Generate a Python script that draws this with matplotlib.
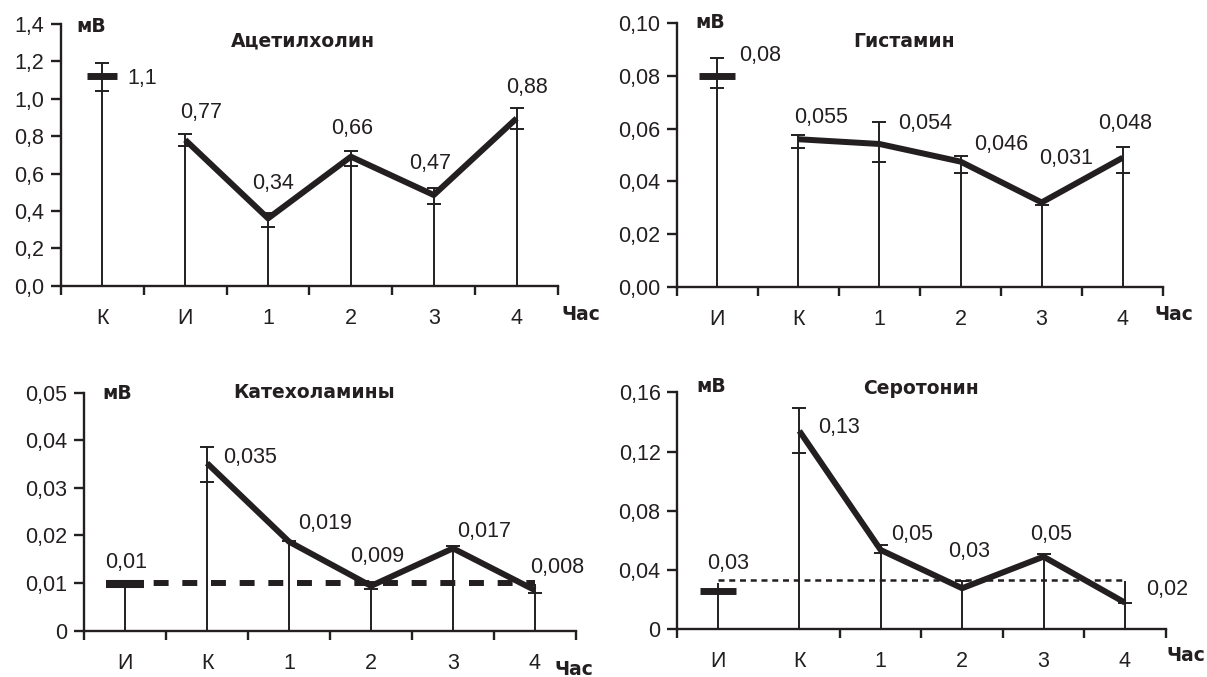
import numpy as np
import matplotlib
matplotlib.use('Agg')
import matplotlib.pyplot as plt

INK = '#231f20'
NUM_FONT = 'Liberation Sans'
BOLD_FONT = 'DejaVu Sans'
NUM_SIZE = 15.5

# ---------------- data ----------------
# Ацетилхолин
ach_cats = ['К', 'И', '1', '2', '3', '4']
ach_vals = [1.12, 0.78, 0.36, 0.69, 0.485, 0.895]
ach_hi = [1.193, 0.81, 0.39, 0.72, 0.524, 0.949]
ach_lo = [1.043, 0.749, 0.312, 0.642, 0.437, 0.837]
ach_labels = ['1,1', '0,77', '0,34', '0,66', '0,47', '0,88']
ach_yticks = [0, 0.2, 0.4, 0.6, 0.8, 1.0, 1.2, 1.4]
ach_yticklabels = ['0,0', '0,2', '0,4', '0,6', '0,8', '1,0', '1,2', '1,4']

# Гистамин
his_cats = ['И', 'К', '1', '2', '3', '4']
his_vals = [0.080, 0.056, 0.0542, 0.0475, 0.032, 0.049]
his_hi = [0.0867, 0.0576, 0.0624, 0.0496, 0.0326, 0.0532]
his_lo = [0.0753, 0.0526, 0.0472, 0.0433, 0.031, 0.0433]
his_labels = ['0,08', '0,055', '0,054', '0,046', '0,031', '0,048']
his_yticks = [0, 0.02, 0.04, 0.06, 0.08, 0.10]
his_yticklabels = ['0,00', '0,02', '0,04', '0,06', '0,08', '0,10']

# Катехоламины
cat_cats = ['И', 'К', '1', '2', '3', '4']
cat_vals = [0.0098, 0.0352, 0.0187, 0.0094, 0.0173, 0.0085]
cat_hi = [0.0098, 0.0385, 0.0189, 0.0103, 0.0178, 0.0098]
cat_lo = [np.nan, 0.0313, np.nan, 0.0087, np.nan, 0.0079]
cat_labels = ['0,01', '0,035', '0,019', '0,009', '0,017', '0,008']
cat_ref = 0.00995
cat_yticks = [0, 0.01, 0.02, 0.03, 0.04, 0.05]
cat_yticklabels = ['0', '0,01', '0,02', '0,03', '0,04', '0,05']

# Серотонин
ser_cats = ['И', 'К', '1', '2', '3', '4']
ser_vals = [0.0261, 0.1339, 0.0535, 0.0277, 0.049, 0.018]
ser_hi = [0.0315, 0.1492, 0.0569, 0.0328, 0.0508, 0.0328]
ser_lo = [np.nan, 0.1192, 0.0513, np.nan, np.nan, 0.018]
ser_labels = ['0,03', '0,13', '0,05', '0,03', '0,05', '0,02']
ser_ref = 0.0333
ser_yticks = [0, 0.04, 0.08, 0.12, 0.16]
ser_yticklabels = ['0', '0,04', '0,08', '0,12', '0,16']

unit_label = 'мВ'
x_label = 'Час'

# ---------------- layout / style ----------------
fig = plt.figure(figsize=(12.07, 6.77), dpi=100)
fig.patch.set_facecolor('white')

panels = [
    dict(rect=[0.0505, 0.578, 0.4118, 0.3866], cats=ach_cats, vals=ach_vals,
         hi=ach_hi, lo=ach_lo, hicap=[True] * 6, labels=ach_labels,
         yt=ach_yticks, ytl=ach_yticklabels, title='Ацетилхолин',
         loff=[(40, -2), (16, 27), (5, 35), (1, 28), (-4, 32), (10, 31)],
         mv=(15, -3), tt=(242, -17), ch=(4, -29), dash=(22, 5), ref=None, ls=None,
         minor_skip=[]),
    dict(rect=[0.5606, 0.5765, 0.4032, 0.389], cats=his_cats, vals=his_vals,
         hi=his_hi, lo=his_lo, hicap=[True] * 6, labels=his_labels,
         yt=his_yticks, ytl=his_yticklabels, title='Гистамин',
         loff=[(43, 21), (23, 22), (46, 20), (41, 17), (24, 44), (2, 34)],
         mv=(19, 1), tt=(227, -18), ch=(-9, -28), dash=(26, 5), ref=None, ls=None,
         minor_skip=[]),
    dict(rect=[0.0696, 0.0684, 0.4076, 0.3516], cats=cat_cats, vals=cat_vals,
         hi=cat_hi, lo=cat_lo, hicap=[False, True, True, True, True, False],
         labels=cat_labels, yt=cat_yticks, ytl=cat_yticklabels, title='Катехоламины',
         loff=[(1, 22), (43, 6), (36, 18), (6, 29), (31, 17), (22, 23)],
         mv=(18, -1), tt=(230, 0), ch=(-21, -39), dash=(27, 5.8), ref=cat_ref,
         ls=dict(lw=4.3, dashes=[2.5, 2.3]), minor_skip=[]),
    dict(rect=[0.5611, 0.0705, 0.4046, 0.3501], cats=ser_cats, vals=ser_vals,
         hi=ser_hi, lo=ser_lo, hicap=[False, True, True, True, True, False],
         labels=ser_labels, yt=ser_yticks, ytl=ser_yticklabels, title='Серотонин',
         loff=[(10, 27), (40, 3), (31, 16), (7, 37), (8, 22), (42, 13)],
         mv=(19, 6), tt=(244, 4), ch=(1, -26), dash=(26, 5), ref=ser_ref,
         ls=dict(lw=1.8, dashes=[2.4, 1.9]), minor_skip=[0.5]),
]

for p in panels:
    ax = fig.add_axes(p['rect'])
    n = len(p['cats'])
    x = np.arange(n)
    vals = np.array(p['vals'], dtype=float)
    hi = np.array(p['hi'], dtype=float)
    lo = np.array(p['lo'], dtype=float)
    hicap = np.array(p['hicap'])

    ax.set_xlim(-0.5, n - 0.5)
    ax.set_ylim(0, p['yt'][-1])
    for s in ['top', 'right']:
        ax.spines[s].set_visible(False)
    for s in ['left', 'bottom']:
        ax.spines[s].set_linewidth(1.7)
        ax.spines[s].set_color(INK)

    ax.set_xticks(x)
    ax.set_xticklabels(p['cats'], fontsize=NUM_SIZE, family=NUM_FONT, color=INK)
    minors = [b for b in np.arange(-0.5, n, 1.0) if b not in p['minor_skip']]
    ax.set_xticks(minors, minor=True)
    ax.tick_params(axis='x', which='major', length=0, pad=16)
    ax.tick_params(axis='x', which='minor', length=6.5, width=1.7, direction='out', color=INK)
    ax.set_yticks(p['yt'])
    ax.set_yticklabels(p['ytl'], fontsize=NUM_SIZE, family=NUM_FONT, color=INK)
    ax.tick_params(axis='y', length=7, width=1.7, pad=5, color=INK)

    # stems and caps
    ax.vlines(x, 0, hi, colors=INK, lw=1.4, clip_on=False, zorder=2)
    ax.plot(x[hicap], hi[hicap], '_', ms=10, mew=1.4, color=INK, clip_on=False, zorder=2)
    m = ~np.isnan(lo)
    ax.plot(x[m], lo[m], '_', ms=10, mew=1.4, color=INK, clip_on=False, zorder=2)

    # reference line
    if p['ref'] is not None:
        ax.plot([x[0], x[-1]], [p['ref'], p['ref']], color=INK, lw=p['ls']['lw'],
                dashes=p['ls']['dashes'], dash_capstyle='butt', zorder=3)

    # first group mark
    ax.plot([x[0]], [vals[0]], '_', ms=p['dash'][0], mew=p['dash'][1], color=INK, zorder=4)
    # main line
    ax.plot(x[1:], vals[1:], color=INK, lw=4.3, solid_joinstyle='round',
            solid_capstyle='butt', zorder=4, clip_on=False)

    # value labels
    for i, txt in enumerate(p['labels']):
        ax.annotate(txt, (x[i], vals[i]), xytext=p['loff'][i], textcoords='offset pixels',
                    ha='center', va='center', fontsize=NUM_SIZE, family=NUM_FONT, color=INK)

    ax.annotate(unit_label, xy=(0, 1), xycoords='axes fraction', xytext=p['mv'],
                textcoords='offset pixels', ha='left', va='center', fontsize=13.5,
                fontweight='bold', family=BOLD_FONT, color=INK)
    ax.annotate(p['title'], xy=(0, 1), xycoords='axes fraction', xytext=p['tt'],
                textcoords='offset pixels', ha='center', va='center', fontsize=13.5,
                fontweight='bold', family=BOLD_FONT, color=INK)
    ax.annotate(x_label, xy=(1, 0), xycoords='axes fraction', xytext=p['ch'],
                textcoords='offset pixels', ha='left', va='center', fontsize=13.5,
                fontweight='bold', family=BOLD_FONT, color=INK, annotation_clip=False)

fig.savefig('out.png', dpi=100, facecolor='white')
